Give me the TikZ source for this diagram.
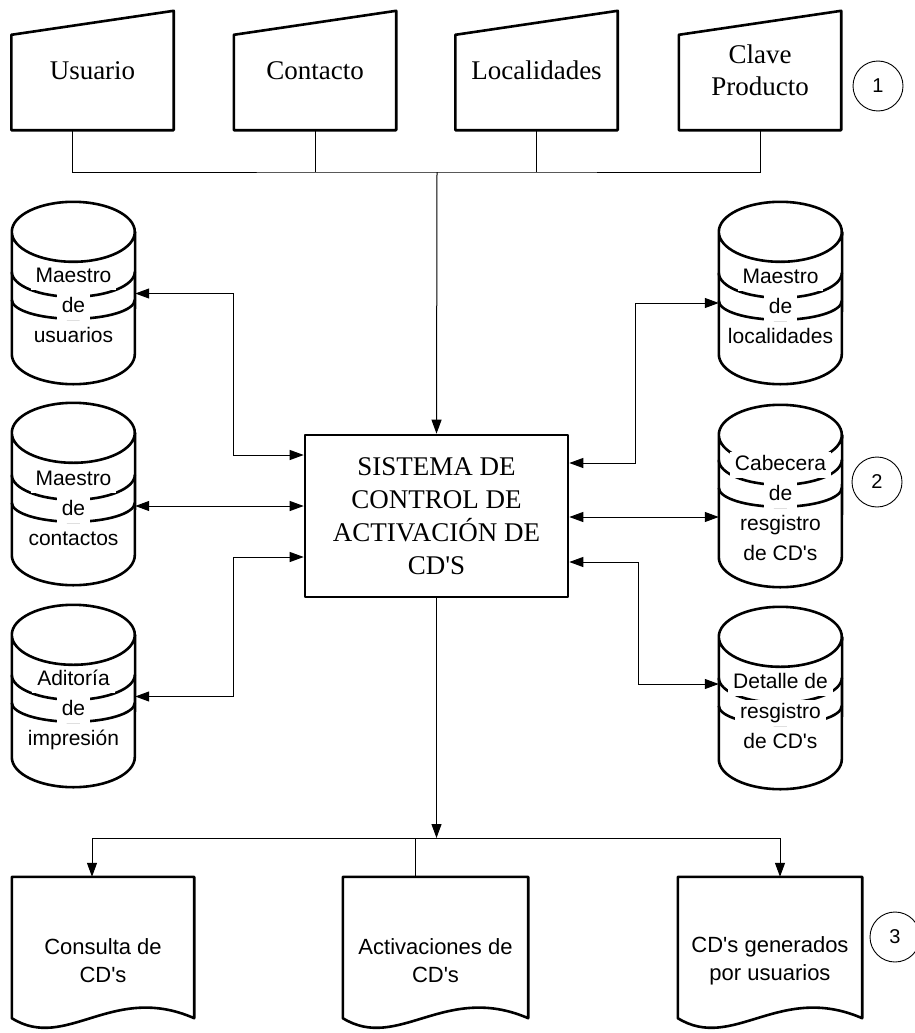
\documentclass[tikz,border=0pt]{standalone}
\usepackage{fontspec}
\setmainfont{Liberation Serif}
\setsansfont{Liberation Sans}
\usetikzlibrary{arrows.meta,calc}

\tikzset{
  >={Triangle[length=14pt,width=10pt]},
  thickline/.style={line width=2.6pt, line join=round},
  thinline/.style={line width=1pt},
  oneway/.style={thinline,->},
  twoway/.style={thinline,<->},
  inbox/.style={minimum width=162pt, minimum height=119pt, inner sep=0pt, align=center,
    font=\fontsize{27}{32}\selectfont},
  drumbox/.style={minimum width=123pt, minimum height=183pt, inner sep=0pt},
  drumtext/.style={fill=white, inner xsep=5pt, inner ysep=0pt, text height=18pt, text depth=8pt,
    font=\sffamily\fontsize{21}{24}\selectfont},
  sysbox/.style={draw, thickline, minimum width=263pt, minimum height=162pt, align=center,
    font=\fontsize{27}{33}\selectfont},
  docbox/.style={minimum height=141pt, inner sep=0pt},
  doctext/.style={align=center, font=\sffamily\fontsize{22}{28}\selectfont},
  numcirc/.style={circle, draw, line width=0.9pt, minimum size=50pt, inner sep=0pt,
    font=\sffamily\fontsize{20}{24}\selectfont}
}

% entrada manual: nombre, centro x, texto
\newcommand{\manin}[3]{
  \node[inbox] (#1) at (#2,70.5) {#3};
  \draw[thickline] (#1.south west) -- ([yshift=-24pt]#1.north west) -- (#1.north east)
    -- (#1.south east) -- cycle;
}

% base de datos: nombre, centro x, y superior, primera linea, lineas
\newcommand{\drum}[5]{
  \node[drumbox] (#1) at (#2,#3+91.5) {};
  \draw[thickline] ([yshift=-30pt]#1.north west)
      arc[start angle=180, end angle=-180, x radius=61.5pt, y radius=30pt]
    -- ([yshift=31pt]#1.south west)
      arc[start angle=180, end angle=360, x radius=61.5pt, y radius=30pt]
    -- ([yshift=-30pt]#1.north east);
  \draw[thickline] ([yshift=-#4pt+5pt]#1.north west)
      arc[start angle=180, end angle=360, x radius=61.5pt, y radius=25pt];
  \draw[thickline] ([yshift=-#4pt-23pt]#1.north west)
      arc[start angle=180, end angle=360, x radius=61.5pt, y radius=19pt];
  \foreach \t [count=\k] in {#5}
    {\node[drumtext] (#1-\k) at (#2,#3+#4+30*\k-30) {\t};}
}

% reporte: nombre, centro x, ancho, texto
\newcommand{\report}[4]{
  \node[docbox, minimum width=#3pt] (#1) at (#2,947.5) {};
  \draw[thickline] (#1.south west) -- (#1.north west) -- (#1.north east) -- (#1.south east)
    .. controls +(-0.45*#3,-36) and +(0.3*#3,34) .. (#1.south west) -- cycle;
  \node[doctext] (#1-t) at ([yshift=-13.5pt]#1.center) {#4};
}

\begin{document}
\begin{tikzpicture}[x=1pt,y=-1pt]
  \fill[white] (0,0) rectangle (915,1033);
  \useasboundingbox (0,0) rectangle (915,1033);

  % entradas
  \manin{usu}{92.5}{Usuario}
  \manin{cont}{315}{Contacto}
  \manin{loc}{536.5}{Localidades}
  \manin{cla}{760}{Clave\\Producto}
  \node[numcirc] (n1) at (878,86) {1};

  % sistema
  \node[sysbox] (sis) at (436.5,516) {SISTEMA DE\\CONTROL DE\\ACTIVACIÓN DE\\CD\textquotesingle S};

  % archivos
  \drum{musu}{73.5}{202}{75}{Maestro,de,usuarios}
  \drum{mcon}{73.5}{403}{77}{Maestro,de,contactos}
  \drum{mimp}{73.5}{605}{75}{Aditoría,de,impresión}
  \drum{mloc}{780.5}{202}{76}{Maestro,de,localidades}
  \drum{mcab}{780.5}{405}{60}{Cabecera,de,resgistro,de CD\textquotesingle s}
  \drum{mdet}{780.5}{607}{76}{Detalle de,resgistro,de CD\textquotesingle s}
  \node[numcirc] (n2) at (877,482) {2};

  % salidas
  \report{cons}{103}{182}{Consulta de\\CD\textquotesingle s}
  \report{act}{435.5}{185}{Activaciones de\\CD\textquotesingle s}
  \report{cdu}{770}{184}{CD\textquotesingle s generados\\por usuarios}
  \node[numcirc] (n3) at (895,937) {3};

  % conexiones
  \coordinate (hub) at (437,172);
  \draw[thinline] ([xshift=-20.5pt]usu.south) |- (hub) -| (cla.south);
  \draw[thinline] (cont.south) -- (cont.south |- hub);
  \draw[thinline] (loc.south) -- (loc.south |- hub);
  \draw[oneway] (hub) -- (sis.north);

  \draw[twoway] (musu.east) -| (233,455) -- ([yshift=61pt]sis.west);
  \draw[twoway] ([yshift=-11.5pt]mcon.east) -- ([yshift=10pt]sis.west);
  \draw[twoway] (mimp.east) -| (233,557) -- ([yshift=-41pt]sis.west);
  \draw[twoway] ([yshift=-9.5pt]mloc.west) -| (635,463) -- ([yshift=53pt]sis.east);
  \draw[twoway] ([yshift=-20.5pt]mcab.west) -- ([yshift=-1pt]sis.east);
  \draw[twoway] ([yshift=14.5pt]mdet.west) -| (638,562) -- ([yshift=-46pt]sis.east);

  \coordinate (split) at (436.5,838);
  \draw[oneway] (sis.south) -- (split);
  \draw[oneway] (split) -| ([xshift=-11pt]cons.north);
  \draw[oneway] (split) -| ([xshift=10pt]cdu.north);
  \draw[thinline] ([xshift=-20.5pt]act.north) -- ([xshift=-20.5pt]act.north |- split);
\end{tikzpicture}
\end{document}
